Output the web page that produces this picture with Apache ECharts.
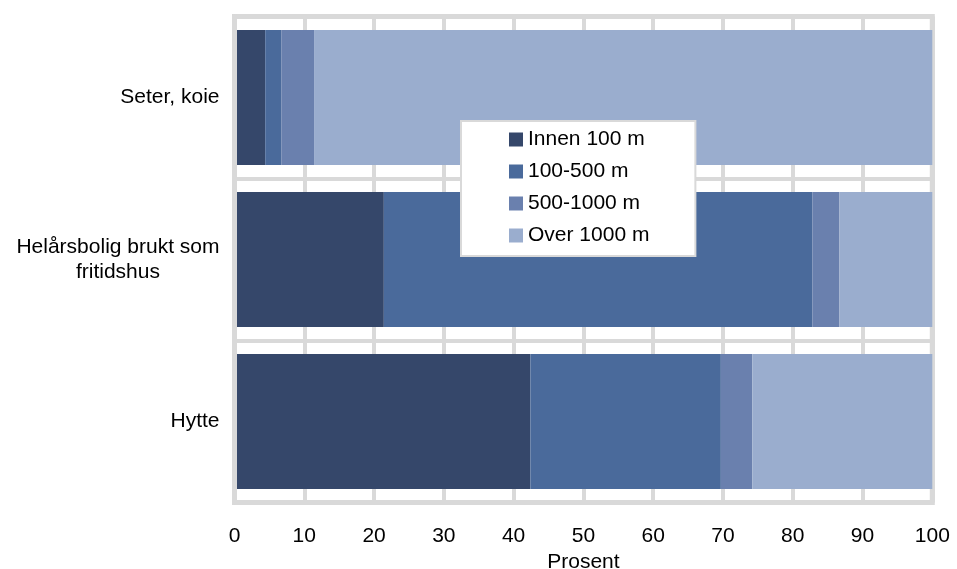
<!DOCTYPE html>
<html>
<head>
<meta charset="utf-8">
<title>Avstand</title>
<script src="https://cdn.jsdelivr.net/npm/echarts@6/dist/echarts.min.js"></script>
<style>
  html, body { margin: 0; padding: 0; background: #fff; }
  #chart { width: 957px; height: 569px; }
</style>
</head>
<body>
<div id="chart"></div>
<script>
// kategorier, nederst først (kategoriakse i echarts starter nederst)
const categories = ['Hytte', 'Helårsbolig brukt som fritidshus', 'Seter, koie']
const seriesNames = ['Innen 100 m', '100-500 m', '500-1000 m', 'Over 1000 m']
const innen100 = [42.4, 21.4, 4.4]
const m100to500 = [27.3, 61.4, 2.3]
const m500to1000 = [4.5, 3.9, 4.7]
const over1000 = [25.8, 13.3, 88.6]
const xTicks = [0, 10, 20, 30, 40, 50, 60, 70, 80, 90, 100]

const colors = ['#35476A', '#4A6A9B', '#6A80AE', '#9AADCE']
const font = 'Liberation Sans, Arial, sans-serif'
const gridGray = '#d9d9d9'

const myChart = echarts.init(document.getElementById('chart'))

const dataList = [innen100, m100to500, m500to1000, over1000]

let option = {
  animation: false,
  color: colors,
  textStyle: { fontFamily: font },
  grid: {
    left: 234.5,
    right: 24.7,
    top: 16.5,
    bottom: 66.5,
    outerBoundsMode: 'none', // ikke krymp plottet for å få plass til tekst
    show: true,
    borderColor: gridGray,
    borderWidth: 5,
    backgroundColor: 'transparent'
  },
  legend: {
    orient: 'vertical',
    left: 461,
    top: 121,
    data: seriesNames,
    icon: 'rect',
    itemWidth: 14,
    itemHeight: 14,
    itemGap: 11,
    padding: [8, 46, 10, 48],
    backgroundColor: '#fff',
    borderColor: gridGray,
    borderWidth: 2,
    textStyle: {
      fontFamily: font,
      fontSize: 21,
      color: '#000'
    }
  },
  xAxis: {
    type: 'value',
    min: xTicks[0],
    max: xTicks[xTicks.length - 1],
    interval: xTicks[1] - xTicks[0],
    name: 'Prosent',
    nameLocation: 'middle',
    nameGap: 49,
    nameTextStyle: { fontFamily: font, fontSize: 21, color: '#000' },
    axisLine: { show: false },
    axisTick: { show: false },
    axisLabel: {
      margin: 23,
      fontFamily: font,
      fontSize: 21,
      color: '#000'
    },
    splitLine: {
      show: true,
      lineStyle: { color: gridGray, width: 4 }
    }
  },
  yAxis: [
    {
      type: 'category',
      data: categories,
      axisLine: { show: false },
      axisTick: { show: false },
      axisLabel: {
        margin: 15,
        fontFamily: font,
        fontSize: 21,
        color: '#000',
        lineHeight: 25,
        formatter: (val) => {
          // lang etikett brytes over to linjer, midtstilt som i Excel
          if (val.length > 20) {
            const cut = val.lastIndexOf(' ')
            return '{c|' + val.slice(0, cut) + '}\n{c|' + val.slice(cut + 1) + '}'
          }
          return val
        },
        rich: {
          c: {
            align: 'center',
            fontFamily: font,
            fontSize: 21,
            lineHeight: 25,
            color: '#000'
          }
        }
      },
      splitLine: {
        show: true,
        interval: 0,
        lineStyle: { color: gridGray, width: 4 }
      }
    },
    {
      // bare venstre ramme, tegnet over stolpene
      type: 'category',
      data: categories,
      position: 'left',
      z: 3,
      axisLine: { show: true, lineStyle: { color: gridGray, width: 5 } },
      axisTick: { show: false },
      axisLabel: { show: false },
      splitLine: { show: false }
    }
  ],
  series: seriesNames.map((name, i) => ({
    name: name,
    type: 'bar',
    stack: 'total',
    barCategoryGap: '16.7%',
    data: dataList[i],
    itemStyle: { color: colors[i] }
  }))
}

myChart.setOption(option)
window.addEventListener('resize', () => {
  myChart.resize()
})
</script>
</body>
</html>
